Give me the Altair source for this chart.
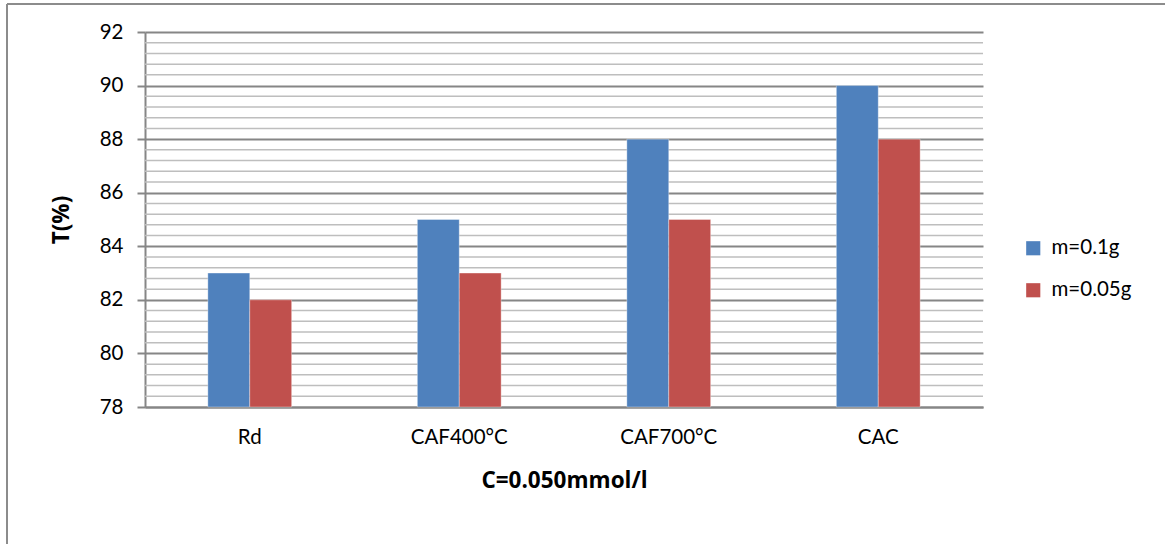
import altair as alt
import numpy as np
import pandas as pd

# Transmittance by adsorbent and dose
categories = ["Rd", "CAF400°C", "CAF700°C", "CAC"]
series_names = ["m=0.1g", "m=0.05g"]
values_01g = [83, 85, 88, 90]
values_005g = [82, 83, 85, 88]
colors = ["#4F81BD", "#C0504D"]
y_ticks = [78, 80, 82, 84, 86, 88, 90, 92]

rows = []
for cat, a, b in zip(categories, values_01g, values_005g):
    rows.append({"cat": cat, "series": series_names[0], "T": a})
    rows.append({"cat": cat, "series": series_names[1], "T": b})
df = pd.DataFrame(rows)

# light minor gridlines between the labelled values
minor = [round(v, 1) for v in np.arange(78, 92.001, 0.4) if round(v, 1) not in y_ticks]
minor_df = pd.DataFrame({"T": minor})

FONT = "Lato"
TITLE_FONT = "Open Sans"
W, H = 838, 375

y_scale = alt.Scale(domain=[78, 92], nice=False, zero=False)

minor_grid = alt.Chart(minor_df).mark_rule(color="#BEBEBE", strokeWidth=1.5).encode(
    y=alt.Y("T:Q", scale=y_scale)
)

bars = alt.Chart(df).mark_bar(stroke="white", strokeOpacity=0.35, strokeWidth=1).encode(
    x=alt.X(
        "cat:N",
        sort=categories,
        scale=alt.Scale(paddingInner=0.6, paddingOuter=0.3),
        axis=alt.Axis(
            title="C=0.050mmol/l",
            titleFont=TITLE_FONT, titleFontSize=22.5, titleFontWeight="bold",
            titleColor="#000000", titlePadding=22,
            labelFont=FONT, labelFontSize=20.5, labelColor="#000000",
            labelPadding=20, labelAngle=0,
            ticks=False, domainColor="#868686", domainWidth=2, grid=False,
        ),
    ),
    xOffset=alt.XOffset("series:N", sort=series_names),
    y=alt.Y(
        "T:Q",
        scale=y_scale,
        axis=alt.Axis(
            values=y_ticks,
            title="T(%)",
            titleFont=TITLE_FONT, titleFontSize=22.5, titleFontWeight="bold",
            titleColor="#000000", titlePadding=26,
            labelFont=FONT, labelFontSize=20.5, labelColor="#000000",
            labelPadding=14,
            tickSize=8, tickColor="#868686", tickWidth=2,
            domainColor="#868686", domainWidth=2,
            grid=True, gridColor="#868686", gridWidth=2,
        ),
    ),
    y2=alt.datum(78),
    color=alt.Color(
        "series:N",
        sort=series_names,
        scale=alt.Scale(domain=series_names, range=colors),
        legend=alt.Legend(
            title=None, orient="none", legendX=878, legendY=206,
            symbolType="square", symbolSize=200, symbolStrokeWidth=0,
            labelFont=FONT, labelFontSize=20.5, labelColor="#000000",
            rowPadding=21, labelOffset=8,
        ),
    ),
)

# outer frame of the chart
frame_df = pd.DataFrame({"k": [0]})
frame_left = alt.Chart(frame_df).mark_rule(color="#8C8C8C", strokeWidth=2).encode(
    x=alt.value(-138), y=alt.value(-28), y2=alt.value(520)
)
frame_top = alt.Chart(frame_df).mark_rule(color="#8C8C8C", strokeWidth=2).encode(
    x=alt.value(-138), x2=alt.value(1030), y=alt.value(-28)
)

chart = (
    alt.layer(minor_grid, bars, frame_left, frame_top)
    .properties(
        width=W, height=H,
        autosize=alt.AutoSizeParams(type="none"),
        padding={"left": 145, "top": 32, "right": 182, "bottom": 137},
        background="white",
    )
    .configure_view(stroke=None)
)

chart.save("out.html", embed_options={"renderer": "svg", "actions": False})
